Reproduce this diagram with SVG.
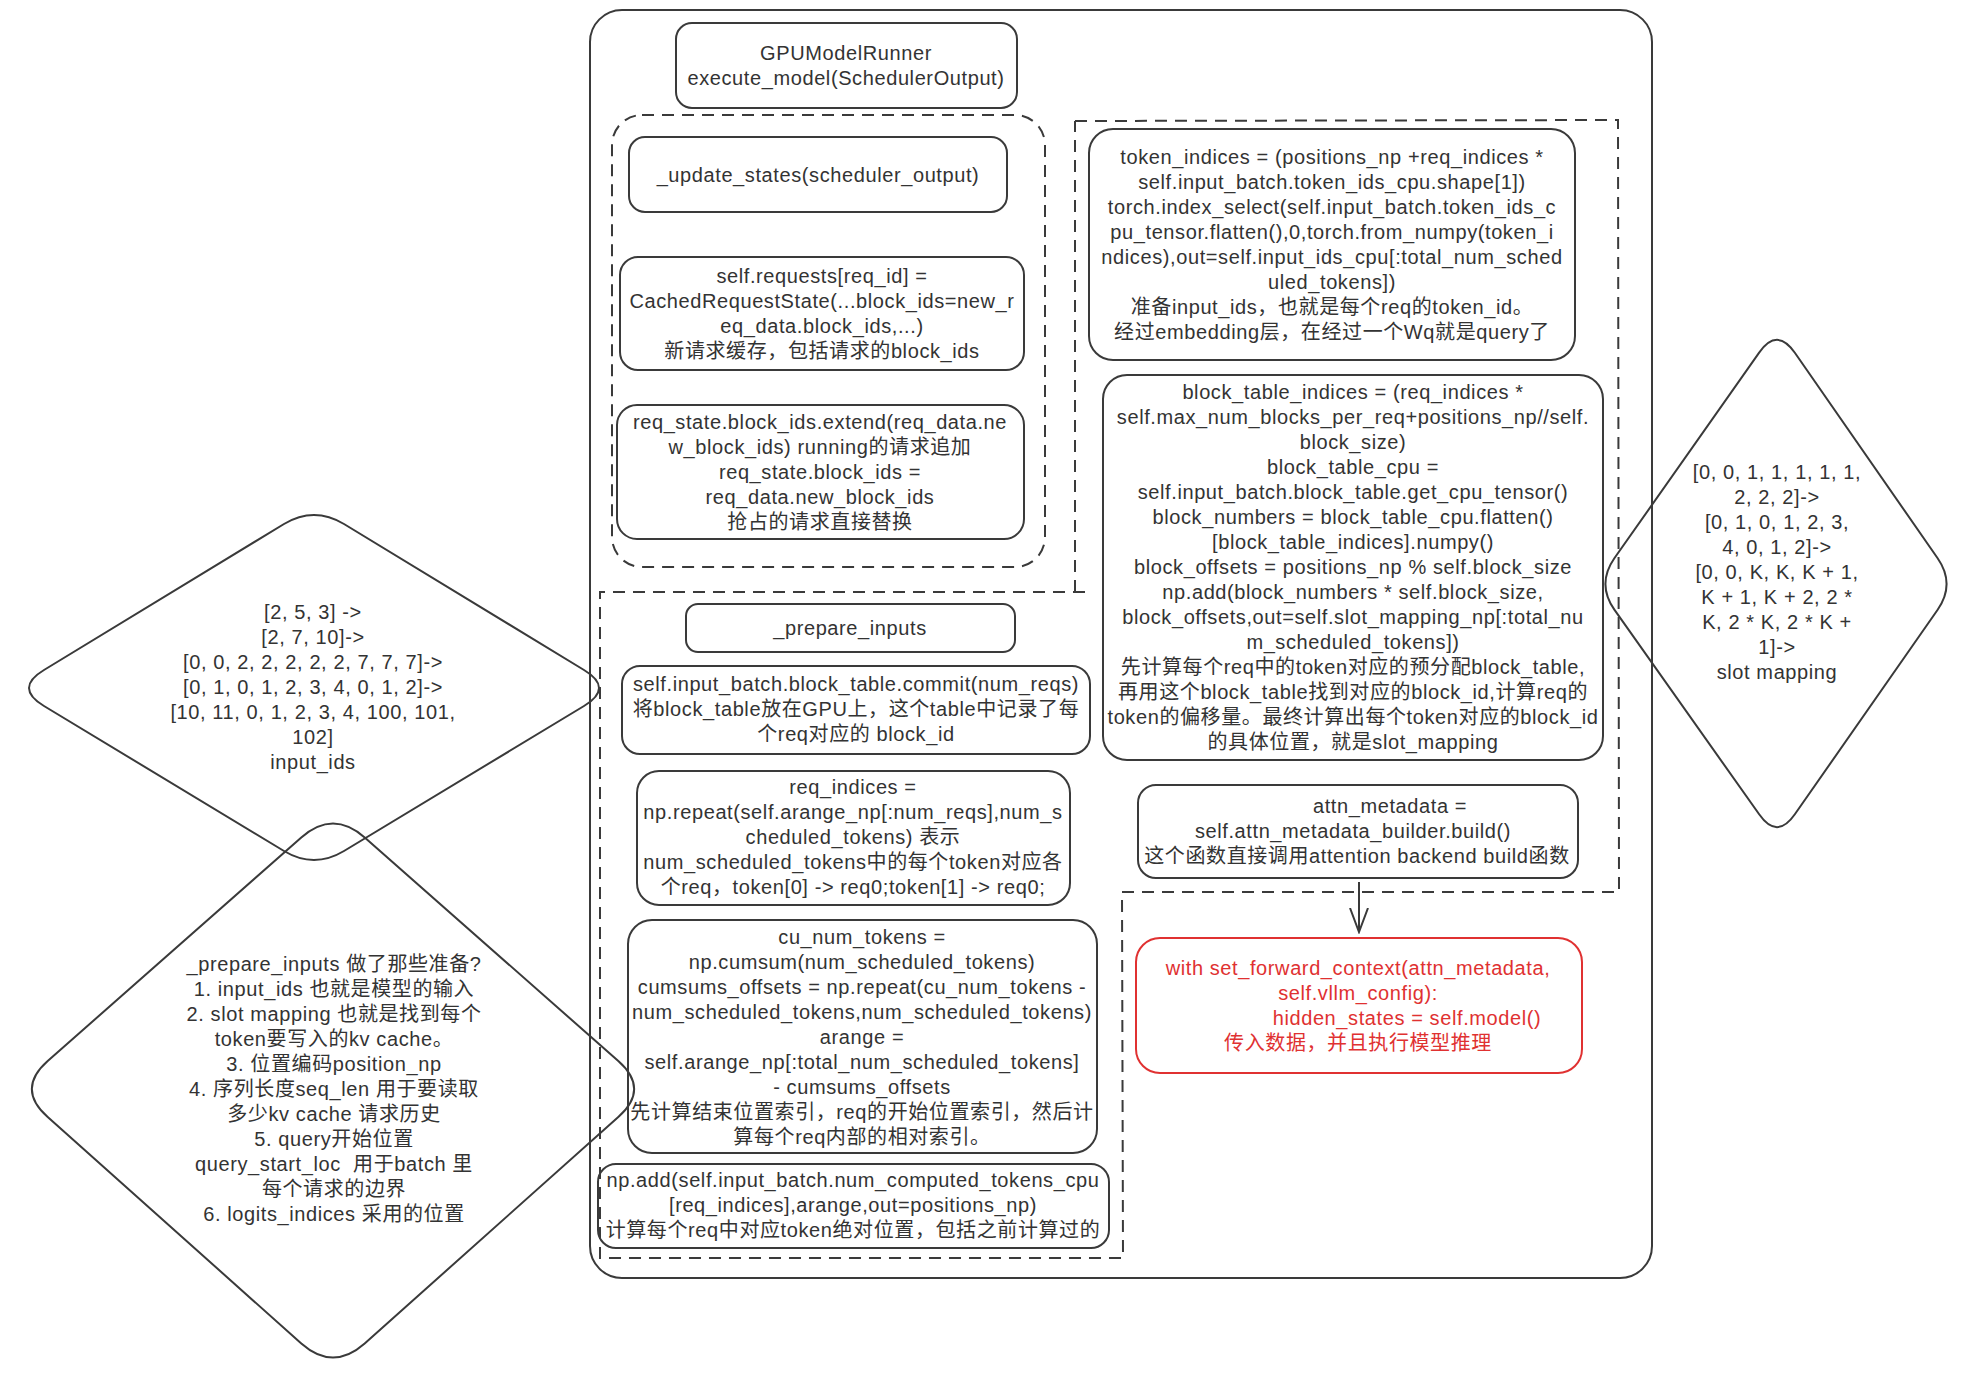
<svg xmlns="http://www.w3.org/2000/svg" width="1968" height="1385" viewBox="0 0 1968 1385">
<style>
.box{fill:none;stroke:#3a3a3a;stroke-width:2}
.dash{fill:none;stroke:#3a3a3a;stroke-width:2;stroke-dasharray:12 8}
.red{fill:none;stroke:#e03131;stroke-width:2}
.t{font-family:"Liberation Sans","Noto Sans CJK SC",sans-serif;font-size:20px;fill:#333;text-anchor:middle;letter-spacing:0.6px}
.tr{fill:#e03131}
</style>
<defs>
<marker id="arrowOpen" viewBox="0 0 26 20" refX="24" refY="10" markerWidth="26" markerHeight="20" markerUnits="userSpaceOnUse" orient="auto">
<path d="M0,1 L24,10 L0,19" fill="none" stroke="#3a3a3a" stroke-width="2"/>
</marker>
</defs>
<rect width="1968" height="1385" fill="#ffffff"/>

<g id="frame-outer"><rect class="box" x="590" y="10" width="1062" height="1268" rx="32"/></g>
<g id="frame-update-states"><rect class="dash" x="612" y="115" width="433" height="452" rx="30"/></g>
<g id="frame-prepare-inputs"><path class="dash" d="M1075,121 L1618,120 L1619,892 L1122,892 L1123,1258 L600,1258 L600,592 L1088,592 M1075,592 L1075,121"/></g>

<g id="node-gpu-runner">
<rect class="box" x="676" y="23" width="341" height="85" rx="16"/>
<text class="t" x="846" y="60">GPUModelRunner</text>
<text class="t" x="846" y="85">execute_model(SchedulerOutput)</text>
</g>

<g id="node-update-states">
<rect class="box" x="629" y="137" width="378" height="75" rx="16"/>
<text class="t" x="818" y="182">_update_states(scheduler_output)</text>
</g>

<g id="node-requests">
<rect class="box" x="620" y="257" width="404" height="113" rx="18"/>
<text class="t" x="822" y="283">self.requests[req_id] =</text>
<text class="t" x="822" y="308">CachedRequestState(...block_ids=new_r</text>
<text class="t" x="822" y="333">eq_data.block_ids,...)</text>
<text class="t" x="822" y="358">新请求缓存，包括请求的block_ids</text>
</g>

<g id="node-req-state">
<rect class="box" x="617" y="405" width="407" height="134" rx="20"/>
<text class="t" x="820" y="429">req_state.block_ids.extend(req_data.ne</text>
<text class="t" x="820" y="454">w_block_ids) running的请求追加</text>
<text class="t" x="820" y="479">req_state.block_ids =</text>
<text class="t" x="820" y="504">req_data.new_block_ids</text>
<text class="t" x="820" y="529">抢占的请求直接替换</text>
</g>

<g id="node-token-indices">
<rect class="box" x="1089" y="129" width="486" height="231" rx="24"/>
<text class="t" x="1332" y="164">token_indices = (positions_np +req_indices *</text>
<text class="t" x="1332" y="189">self.input_batch.token_ids_cpu.shape[1])</text>
<text class="t" x="1332" y="214">torch.index_select(self.input_batch.token_ids_c</text>
<text class="t" x="1332" y="239">pu_tensor.flatten(),0,torch.from_numpy(token_i</text>
<text class="t" x="1332" y="264">ndices),out=self.input_ids_cpu[:total_num_sched</text>
<text class="t" x="1332" y="289">uled_tokens])</text>
<text class="t" x="1332" y="314">准备input_ids，也就是每个req的token_id。</text>
<text class="t" x="1332" y="339">经过embedding层，在经过一个Wq就是query了</text>
</g>

<g id="node-block-table">
<rect class="box" x="1103" y="375" width="500" height="385" rx="24"/>
<text class="t" x="1353" y="399">block_table_indices = (req_indices *</text>
<text class="t" x="1353" y="424">self.max_num_blocks_per_req+positions_np//self.</text>
<text class="t" x="1353" y="449">block_size)</text>
<text class="t" x="1353" y="474">block_table_cpu =</text>
<text class="t" x="1353" y="499">self.input_batch.block_table.get_cpu_tensor()</text>
<text class="t" x="1353" y="524">block_numbers = block_table_cpu.flatten()</text>
<text class="t" x="1353" y="549">[block_table_indices].numpy()</text>
<text class="t" x="1353" y="574">block_offsets = positions_np % self.block_size</text>
<text class="t" x="1353" y="599">np.add(block_numbers * self.block_size,</text>
<text class="t" x="1353" y="624">block_offsets,out=self.slot_mapping_np[:total_nu</text>
<text class="t" x="1353" y="649">m_scheduled_tokens])</text>
<text class="t" x="1353" y="674">先计算每个req中的token对应的预分配block_table,</text>
<text class="t" x="1353" y="699">再用这个block_table找到对应的block_id,计算req的</text>
<text class="t" x="1353" y="724">token的偏移量。最终计算出每个token对应的block_id</text>
<text class="t" x="1353" y="749">的具体位置，就是slot_mapping</text>
</g>

<g id="node-attn-metadata">
<rect class="box" x="1138" y="785" width="440" height="93" rx="18"/>
<text class="t" x="1390" y="813">attn_metadata =</text>
<text class="t" x="1353" y="838">self.attn_metadata_builder.build()</text>
<text class="t" x="1357" y="863">这个函数直接调用attention backend build函数</text>
</g>

<g id="node-forward">
<rect class="red" x="1136" y="938" width="446" height="135" rx="24"/>
<text class="t tr" x="1358" y="975">with set_forward_context(attn_metadata,</text>
<text class="t tr" x="1358" y="1000">self.vllm_config):</text>
<text class="t tr" x="1407" y="1025">hidden_states = self.model()</text>
<text class="t tr" x="1358" y="1050">传入数据，并且执行模型推理</text>
</g>

<g id="node-prepare-inputs">
<rect class="box" x="686" y="604" width="329" height="48" rx="12"/>
<text class="t" x="850" y="635">_prepare_inputs</text>
</g>

<g id="node-commit">
<rect class="box" x="622" y="666" width="468" height="88" rx="18"/>
<text class="t" x="856" y="691">self.input_batch.block_table.commit(num_reqs)</text>
<text class="t" x="856" y="716">将block_table放在GPU上，这个table中记录了每</text>
<text class="t" x="856" y="741">个req对应的 block_id</text>
</g>

<g id="node-req-indices">
<rect class="box" x="637" y="771" width="433" height="134" rx="22"/>
<text class="t" x="853" y="794">req_indices =</text>
<text class="t" x="853" y="819">np.repeat(self.arange_np[:num_reqs],num_s</text>
<text class="t" x="853" y="844">cheduled_tokens) 表示</text>
<text class="t" x="853" y="869">num_scheduled_tokens中的每个token对应各</text>
<text class="t" x="853" y="894">个req，token[0] -&gt; req0;token[1] -&gt; req0;</text>
</g>

<g id="node-cu-num-tokens">
<rect class="box" x="628" y="920" width="469" height="233" rx="24"/>
<text class="t" x="862" y="944">cu_num_tokens =</text>
<text class="t" x="862" y="969">np.cumsum(num_scheduled_tokens)</text>
<text class="t" x="862" y="994">cumsums_offsets = np.repeat(cu_num_tokens -</text>
<text class="t" x="862" y="1019">num_scheduled_tokens,num_scheduled_tokens)</text>
<text class="t" x="862" y="1044">arange =</text>
<text class="t" x="862" y="1069">self.arange_np[:total_num_scheduled_tokens]</text>
<text class="t" x="862" y="1094">- cumsums_offsets</text>
<text class="t" x="862" y="1119">先计算结束位置索引，req的开始位置索引，然后计</text>
<text class="t" x="862" y="1144">算每个req内部的相对索引。</text>
</g>

<g id="node-np-add">
<rect class="box" x="598" y="1164" width="511" height="84" rx="18"/>
<text class="t" x="853" y="1187">np.add(self.input_batch.num_computed_tokens_cpu</text>
<text class="t" x="853" y="1212">[req_indices],arange,out=positions_np)</text>
<text class="t" x="853" y="1237">计算每个req中对应token绝对位置，包括之前计算过的</text>
</g>

<g id="node-input-ids-diamond">
<path class="box" d="M344,524 L584,670 Q614,688 584,706 L344,851 Q314,869 284,851 L44,706 Q14,688 44,670 L284,524 Q314,506 344,524 Z"/>
<text class="t" x="313" y="619">[2, 5, 3] -&gt;</text>
<text class="t" x="313" y="644">[2, 7, 10]-&gt;</text>
<text class="t" x="313" y="669">[0, 0, 2, 2, 2, 2, 2, 7, 7, 7]-&gt;</text>
<text class="t" x="313" y="694">[0, 1, 0, 1, 2, 3, 4, 0, 1, 2]-&gt;</text>
<text class="t" x="313" y="719">[10, 11, 0, 1, 2, 3, 4, 100, 101,</text>
<text class="t" x="313" y="744">102]</text>
<text class="t" x="313" y="769">input_ids</text>
</g>

<g id="node-prepare-summary-diamond">
<path class="box" d="M364.7,837.5 L618.3,1061 Q650,1089 618.3,1117 L364.7,1343.5 Q333,1371.5 301.3,1343.5 L47.7,1117 Q16,1089 47.7,1061 L301.3,837.5 Q333,809.5 364.7,837.5 Z"/>
<text class="t" x="334" y="971">_prepare_inputs 做了那些准备?</text>
<text class="t" x="334" y="996">1. input_ids 也就是模型的输入</text>
<text class="t" x="334" y="1021">2. slot mapping 也就是找到每个</text>
<text class="t" x="334" y="1046">token要写入的kv cache。</text>
<text class="t" x="334" y="1071">3. 位置编码position_np</text>
<text class="t" x="334" y="1096">4. 序列长度seq_len 用于要读取</text>
<text class="t" x="334" y="1121">多少kv cache 请求历史</text>
<text class="t" x="334" y="1146">5. query开始位置</text>
<text class="t" x="334" y="1171" xml:space="preserve">query_start_loc  用于batch 里</text>
<text class="t" x="334" y="1196">每个请求的边界</text>
<text class="t" x="334" y="1221">6. logits_indices 采用的位置</text>
</g>

<g id="node-slot-mapping-diamond">
<path class="box" d="M1794.85,352.7 L1937.65,558.3 Q1955.5,584 1937.65,609.7 L1794.85,814.3 Q1777,840 1759.15,814.3 L1614.35,609.7 Q1596.5,584 1614.35,558.3 L1759.15,352.7 Q1777,327 1794.85,352.7 Z"/>
<text class="t" x="1777" y="479">[0, 0, 1, 1, 1, 1, 1,</text>
<text class="t" x="1777" y="504">2, 2, 2]-&gt;</text>
<text class="t" x="1777" y="529">[0, 1, 0, 1, 2, 3,</text>
<text class="t" x="1777" y="554">4, 0, 1, 2]-&gt;</text>
<text class="t" x="1777" y="579">[0, 0, K, K, K + 1,</text>
<text class="t" x="1777" y="604">K + 1, K + 2, 2 *</text>
<text class="t" x="1777" y="629">K, 2 * K, 2 * K +</text>
<text class="t" x="1777" y="654">1]-&gt;</text>
<text class="t" x="1777" y="679">slot mapping</text>
</g>

<g id="connectors">
<path class="box" d="M1359,882 L1359,932" marker-end="url(#arrowOpen)"/>
</g>
</svg>
